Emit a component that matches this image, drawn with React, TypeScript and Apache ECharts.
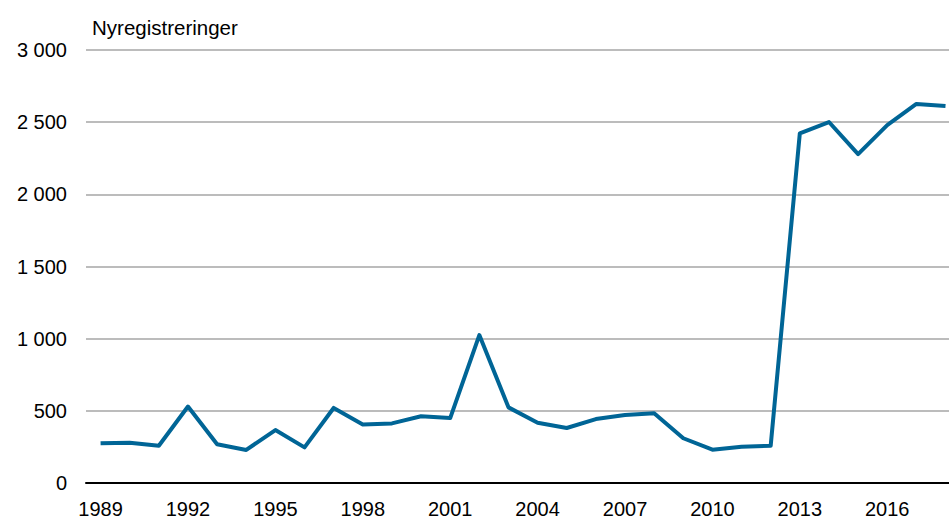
import React, { useEffect, useRef } from "react";
import * as echarts from "echarts";

const years = [1989,1990,1991,1992,1993,1994,1995,1996,1997,1998,1999,2000,2001,2002,2003,2004,2005,2006,2007,2008,2009,2010,2011,2012,2013,2014,2015,2016,2017,2018];
const values = [275,279,258,530,268,229,367,247,520,405,413,462,450,1025,524,418,381,443,471,483,310,231,251,258,2423,2501,2279,2480,2626,2612];
const xTickLabels = [1989,1992,1995,1998,2001,2004,2007,2010,2013,2016];
const yTitle = "Nyregistreringer";

export default function App() {
  const ref = useRef<HTMLDivElement>(null);
  useEffect(() => {
    const chart = echarts.init(ref.current!, null, { renderer: "svg" });
    const font = "'Liberation Sans', Arial, sans-serif";
    chart.setOption({
      animation: false,
      title: {
        text: yTitle,
        left: 92,
        top: 17,
        padding: 0,
        textStyle: { fontFamily: font, fontSize: 20.5, fontWeight: "normal", color: "#000" },
      },
      grid: { left: 86, right: 0, top: 50, bottom: 36, containLabel: false },
      xAxis: {
        type: "value",
        min: 1988.5,
        max: 2018.12,
        axisLine: { show: true, onZero: false, lineStyle: { color: "#000", width: 2 } },
        axisTick: { show: false },
        splitLine: { show: false },
        axisLabel: {
          customValues: xTickLabels,
          formatter: (v: number) => String(v),
          fontFamily: font,
          fontSize: 20,
          color: "#000",
          margin: 16,
        },
      },
      yAxis: {
        type: "value",
        min: 0,
        max: 3000,
        interval: 500,
        axisLine: { show: false },
        axisTick: { show: false },
        splitLine: { lineStyle: { color: "#a6a6a6", width: 1.5 } },
        axisLabel: {
          formatter: (v: number) => v.toLocaleString("en-US").replace(/,/g, " "),
          fontFamily: font,
          fontSize: 20,
          color: "#000",
          margin: 19,
        },
      },
      series: [
        {
          type: "line",
          data: years.map((y, i) => [y, values[i]]),
          symbol: "none",
          lineStyle: { color: "#006596", width: 4, join: "round" },
          z: 3,
        },
      ],
    });
    return () => chart.dispose();
  }, []);
  return <div ref={ref} style={{ width: 949, height: 519, position: "absolute", left: 0, top: 0 }} />;
}
